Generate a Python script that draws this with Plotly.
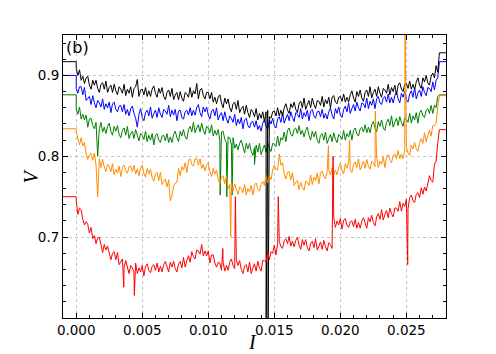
import numpy as np
import plotly.graph_objects as go

# ---- data ----
I_step = 0.000125
n_pts = 221
I = np.round(np.arange(n_pts) * I_step, 7)   # sample grid of current I
I_pre = -0.001     # flat level before the sweep
I_post = 0.028     # flat level after the sweep

# voltages in units of 1e-3
V_black_m = [
    909, 900, 907, 894, 899, 890, 897, 899,
    888, 883, 894, 888, 894, 884, 879, 889,
    891, 883, 893, 879, 885, 888, 879, 889,
    881, 876, 886, 883, 878, 889, 875, 883,
    878, 886, 873, 884, 886, 895, 874, 882,
    883, 876, 885, 874, 881, 874, 883, 887,
    878, 873, 884, 878, 885, 874, 870, 879,
    882, 874, 884, 870, 876, 879, 870, 880,
    872, 868, 879, 877, 873, 885, 873, 881,
    877, 890, 871, 882, 884, 875, 871, 879,
    879, 871, 879, 867, 873, 865, 873, 876,
    866, 860, 872, 865, 871, 860, 855, 865,
    867, 858, 869, 854, 859, 862, 852, 863,
    854, 848, 858, 855, 849, 859, 845, 853,
    847, 855, 843, 855, 857, 849, 847, 855,
    856, 850, 860, 850, 857, 850, 860, 865,
    857, 853, 865, 860, 867, 858, 854, 865,
    868, 860, 872, 858, 864, 869, 860, 872,
    864, 859, 869, 868, 863, 874, 861, 870,
    865, 873, 860, 873, 875, 867, 865, 873,
    874, 868, 877, 867, 873, 867, 876, 881,
    872, 867, 880, 874, 882, 872, 868, 879,
    882, 874, 886, 872, 879, 883, 874, 886,
    878, 873, 884, 882, 878, 889, 876, 885,
    880, 888, 876, 888, 891, 883, 880, 889,
    890, 884, 893, 883, 889, 883, 892, 897,
    888, 884, 897, 892, 900, 891, 888, 899,
    903, 897, 912, 904, 928]
V_blue_m = [
    884, 878, 886, 886, 876, 885, 869, 872,
    874, 864, 875, 866, 860, 869, 866, 861,
    871, 858, 865, 860, 867, 854, 865, 867,
    858, 855, 862, 863, 855, 864, 852, 858,
    850, 859, 862, 853, 847, 836, 852, 859,
    848, 844, 854, 857, 850, 861, 847, 853,
    857, 848, 860, 852, 848, 858, 856, 852,
    863, 849, 857, 851, 858, 844, 856, 857,
    848, 846, 855, 857, 851, 860, 850, 857,
    851, 860, 864, 854, 849, 861, 855, 861,
    851, 846, 856, 858, 850, 860, 845, 851,
    854, 844, 855, 846, 841, 850, 847, 842,
    852, 838, 846, 840, 848, 834, 845, 847,
    838, 835, 842, 843, 836, 844, 833, 838,
    831, 841, 845, 837, 833, 845, 840, 847,
    838, 835, 846, 849, 842, 854, 841, 847,
    852, 844, 855, 848, 843, 854, 852, 848,
    859, 846, 854, 849, 857, 844, 856, 858,
    850, 847, 855, 856, 849, 858, 847, 853,
    846, 855, 860, 851, 846, 859, 853, 861,
    851, 848, 858, 862, 855, 866, 853, 859,
    864, 856, 867, 860, 856, 866, 865, 860,
    872, 859, 868, 863, 871, 859, 871, 874,
    866, 864, 872, 874, 867, 877, 866, 873,
    866, 875, 880, 871, 866, 878, 873, 880,
    870, 867, 877, 881, 873, 885, 871, 878,
    882, 874, 886, 879, 875, 885, 884, 880,
    892, 882, 894, 897, 917]
V_green_m = [
    859, 852, 861, 846, 852, 845, 851, 836,
    846, 847, 838, 834, 842, 800, 834, 842,
    830, 836, 828, 837, 841, 831, 826, 837,
    831, 838, 827, 823, 832, 835, 826, 837,
    822, 828, 831, 822, 833, 824, 819, 828,
    826, 821, 831, 818, 826, 820, 828, 814,
    826, 828, 820, 817, 825, 826, 819, 828,
    817, 824, 817, 827, 831, 823, 818, 831,
    825, 833, 824, 821, 833, 837, 830, 842,
    829, 835, 839, 830, 841, 832, 827, 837,
    835, 829, 839, 825, 832, 826, 833, 819,
    830, 831, 821, 817, 824, 823, 815, 823,
    810, 815, 808, 816, 820, 810, 804, 816,
    809, 816, 806, 801, 811, 814, 805, 816,
    802, 809, 814, 805, 817, 810, 806, 816,
    815, 812, 825, 813, 823, 820, 830, 818,
    832, 835, 827, 825, 833, 835, 828, 838,
    827, 832, 824, 832, 836, 826, 820, 831,
    824, 831, 820, 816, 826, 828, 820, 830,
    816, 822, 827, 818, 829, 821, 817, 827,
    825, 821, 832, 820, 828, 824, 832, 820,
    832, 835, 828, 825, 834, 836, 830, 839,
    829, 836, 829, 839, 843, 835, 830, 843,
    837, 845, 835, 832, 842, 846, 838, 850,
    836, 842, 847, 838, 849, 842, 837, 848,
    846, 842, 853, 841, 850, 845, 854, 841,
    854, 857, 850, 848, 857, 859, 853, 863,
    853, 863, 860, 874, 876]
V_orange_m = [
    830, 823, 814, 823, 813, 817, 803, 796,
    802, 804, 795, 804, 789, 750, 797, 786,
    796, 787, 781, 790, 787, 781, 791, 777,
    784, 779, 788, 775, 787, 789, 782, 779,
    787, 788, 781, 789, 778, 784, 776, 785,
    789, 779, 774, 785, 778, 784, 774, 769,
    778, 780, 770, 780, 765, 769, 772, 762,
    771, 745, 751, 763, 767, 768, 785, 776,
    787, 783, 792, 780, 794, 797, 790, 788,
    797, 797, 789, 797, 785, 790, 782, 790,
    792, 781, 775, 785, 778, 783, 771, 766,
    774, 776, 766, 776, 760, 765, 767, 757,
    766, 758, 753, 762, 760, 755, 765, 752,
    760, 756, 764, 752, 764, 767, 759, 757,
    765, 769, 764, 776, 767, 776, 771, 783,
    789, 784, 783, 803, 789, 792, 778, 772,
    780, 781, 771, 780, 764, 768, 770, 759,
    768, 761, 758, 769, 768, 764, 777, 765,
    774, 770, 779, 766, 779, 782, 775, 772,
    781, 783, 777, 786, 776, 783, 777, 786,
    791, 783, 778, 791, 785, 793, 783, 780,
    790, 793, 786, 797, 783, 789, 794, 785,
    796, 788, 784, 794, 792, 787, 799, 786,
    794, 790, 799, 786, 799, 802, 795, 792,
    801, 803, 797, 807, 797, 803, 797, 807,
    812, 804, 801, 814, 809, 817, 809, 806,
    817, 822, 816, 829, 818, 826, 832, 825,
    838, 838, 841, 861, 875]
V_red_m = [
    745, 728, 736, 734, 722, 715, 719, 716,
    705, 712, 698, 702, 692, 699, 700, 689,
    681, 691, 684, 689, 678, 672, 680, 682,
    672, 681, 666, 670, 673, 662, 671, 662,
    655, 665, 662, 657, 668, 655, 662, 657,
    665, 652, 664, 667, 659, 656, 664, 666,
    659, 668, 657, 664, 657, 666, 670, 662,
    657, 669, 663, 670, 661, 657, 667, 670,
    662, 675, 663, 671, 677, 669, 682, 676,
    673, 684, 683, 679, 691, 677, 683, 677,
    683, 668, 678, 678, 668, 663, 669, 668,
    659, 669, 658, 665, 659, 669, 673, 665,
    661, 672, 665, 671, 660, 655, 664, 666,
    657, 669, 655, 662, 667, 658, 670, 662,
    658, 671, 671, 669, 682, 672, 682, 680,
    690, 678, 692, 695, 688, 686, 696, 698,
    692, 701, 689, 695, 688, 696, 700, 690,
    685, 697, 690, 697, 687, 683, 692, 695,
    687, 698, 684, 690, 694, 685, 696, 688,
    683, 693, 691, 686, 725, 712, 720, 715,
    723, 710, 721, 723, 715, 712, 719, 720,
    713, 722, 711, 718, 711, 720, 724, 716,
    711, 724, 719, 727, 718, 714, 725, 729,
    722, 734, 721, 728, 733, 724, 736, 729,
    725, 736, 736, 732, 744, 732, 742, 738,
    747, 735, 749, 752, 745, 743, 753, 755,
    749, 761, 753, 762, 757, 769, 776, 770,
    768, 790, 794, 816, 833]

# flat levels before / after the sweep
V_pre = {"black": 0.917, "blue": 0.900, "green": 0.876, "orange": 0.834, "red": 0.750}
V_post = {"black": 0.928, "blue": 0.917, "green": 0.876, "orange": 0.875, "red": 0.833}

# isolated glitches (spikes)
spikes_I = {
    "black": [0.01438, 0.01453],
    "blue": [],
    "green": [0.0109, 0.0114, 0.0118, 0.0135],
    "orange": [0.0117, 0.0191, 0.01945, 0.0207, 0.02265, 0.0249],
    "red": [0.0036, 0.0044, 0.0111, 0.01205, 0.0153, 0.01945, 0.0251],
}
spikes_V = {
    "black": [0.59, 0.59],
    "blue": [],
    "green": [0.752, 0.750, 0.752, 0.790],
    "orange": [0.700, 0.813, 0.752, 0.820, 0.856, 0.960],
    "red": [0.638, 0.628, 0.686, 0.750, 0.750, 0.800, 0.666],
}

series = {"black": V_black_m, "blue": V_blue_m, "green": V_green_m,
          "orange": V_orange_m, "red": V_red_m}
colors = {"black": "#000000", "blue": "#0000ff", "green": "#008000",
          "orange": "#ff8c00", "red": "#ff0000"}
draw_order = ["green", "blue", "black", "orange", "red"]

fig = go.Figure()
for name in draw_order:
    V = (np.array(series[name]) * 1e-3).tolist()
    pts = sorted(list(zip(I.tolist(), V)) + list(zip(spikes_I[name], spikes_V[name])),
                 key=lambda p: p[0])
    xs = [I_pre, float(I[0])] + [p[0] for p in pts] + [I_post]
    ys = [V_pre[name], V_pre[name]] + [p[1] for p in pts] + [V_post[name]]
    fig.add_trace(go.Scatter(x=xs, y=ys, mode="lines",
                             line=dict(color=colors[name], width=1),
                             showlegend=False, hoverinfo="skip"))

tick_font = dict(family="DejaVu Sans", size=13.5, color="#000000")
axis_common = dict(showline=True, linecolor="#000000", linewidth=1, mirror="allticks",
                   ticks="inside", ticklen=5, tickcolor="#000000",
                   showgrid=True, gridcolor="#c4c4c4", griddash="dot", gridwidth=1,
                   zeroline=False, tickfont=tick_font, automargin=False)

fig.update_xaxes(range=[-0.001, 0.028], tickvals=[0, 0.005, 0.01, 0.015, 0.02, 0.025],
                 ticktext=["0.000", "0.005", "0.010", "0.015", "0.020", "0.025"],
                 minor=dict(tick0=0, dtick=0.001, ticks="inside", ticklen=3,
                            tickcolor="#000000", showgrid=False),
                 **axis_common)
fig.update_yaxes(range=[0.6, 0.95], tickvals=[0.7, 0.8, 0.9],
                 ticktext=["0.7", "0.8", "0.9"],
                 minor=dict(tick0=0.6, dtick=0.02, ticks="inside", ticklen=3,
                            tickcolor="#000000", showgrid=False),
                 **axis_common)

title_font = dict(family="Liberation Serif", size=20, color="#000000")
fig.add_annotation(text="<i>I</i>", xref="paper", yref="paper", x=0.494, y=-0.086,
                   xanchor="center", yanchor="middle", showarrow=False, font=title_font)
fig.add_annotation(text="<i>V</i>", xref="paper", yref="paper", x=-0.086, y=0.5,
                   xanchor="center", yanchor="middle", textangle=-90, showarrow=False,
                   font=title_font)
fig.add_annotation(text="(b)", xref="paper", yref="paper", x=0.003, y=0.995,
                   xanchor="left", yanchor="top", showarrow=False,
                   font=dict(family="DejaVu Sans", size=16, color="#000000"))

# the page body adds an 8 px offset, so the figure is 8 px smaller each way
fig.update_layout(width=488, height=346, margin=dict(l=55, r=50, t=27, b=36),
                  paper_bgcolor="#ffffff", plot_bgcolor="#ffffff")

fig.write_html("out.html")
